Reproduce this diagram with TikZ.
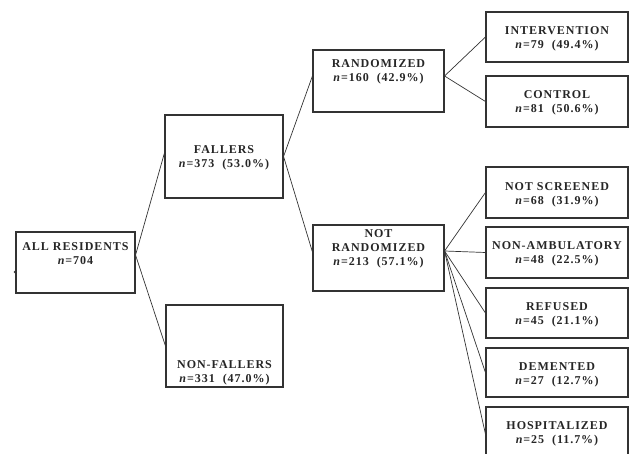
\documentclass[tikz,border=0pt]{standalone}
\usepackage{fontspec}
\newfontfamily\boxfont[LetterSpace=8]{Liberation Serif}
\tikzset{
    box/.style={draw=black!80, line width=1.1pt, inner sep=0pt},
    lbl/.style={font=\boxfont\bfseries\fontsize{12}{14}\selectfont, text=black!85, align=center, inner sep=0pt},
    link/.style={draw=black!80, line width=0.7pt}
}
\begin{document}
\begin{tikzpicture}[x=1pt, y=-1pt]
    \useasboundingbox (0, 0) rectangle (630, 454);
    \clip (0, 0) rectangle (630, 454);

    \node[box, minimum width=119, minimum height=61] (all) at (75.5, 262.5) {};
    \node[lbl] (allT) at (75.5, 254) {ALL RESIDENTS\\\textit{n}=704};
    \fill[black!80] (15, 272) circle (1.3pt);

    \node[box, minimum width=118, minimum height=83] (fallers) at (224, 156.5) {};
    \node[lbl] (fallersT) at (224, 157.5) {FALLERS\\\textit{n}=373\ \ (53.0\%)};

    \node[box, minimum width=117, minimum height=82] (nonfall) at (224.5, 346) {};
    \node[lbl] (nonfallT) at (224.5, 373) {NON-FALLERS\\\textit{n}=331\ \ (47.0\%)};

    \node[box, minimum width=131, minimum height=62] (rand) at (378.5, 81) {};
    \node[lbl] (randT) at (378.5, 72) {RANDOMIZED\\\textit{n}=160\ \ (42.9\%)};

    \node[box, minimum width=131, minimum height=66] (notrand) at (378.5, 258) {};
    \node[lbl] (notrandT) at (378.5, 249) {NOT\\RANDOMIZED\\\textit{n}=213\ \ (57.1\%)};

    \node[box, minimum width=142, minimum height=50] (interv) at (557, 37) {};
    \node[lbl] (intervT) at (557, 38.5) {INTERVENTION\\\textit{n}=79\ \ (49.4\%)};

    \node[box, minimum width=142, minimum height=51] (control) at (557, 101.5) {};
    \node[lbl] (controlT) at (557, 103) {CONTROL\\\textit{n}=81\ \ (50.6\%)};

    \node[box, minimum width=142, minimum height=51] (notscr) at (557, 192.5) {};
    \node[lbl] (notscrT) at (557, 195) {NOT SCREENED\\\textit{n}=68\ \ (31.9\%)};

    \node[box, minimum width=142, minimum height=51] (nonamb) at (557, 252.5) {};
    \node[lbl] (nonambT) at (557, 254) {NON-AMBULATORY\\\textit{n}=48\ \ (22.5\%)};

    \node[box, minimum width=142, minimum height=50] (refused) at (557, 313) {};
    \node[lbl] (refusedT) at (557, 315) {REFUSED\\\textit{n}=45\ \ (21.1\%)};

    \node[box, minimum width=142, minimum height=49] (dement) at (557, 372.5) {};
    \node[lbl] (dementT) at (557, 374.5) {DEMENTED\\\textit{n}=27\ \ (12.7\%)};

    \node[box, minimum width=142, minimum height=54] (hosp) at (557, 434) {};
    \node[lbl] (hospT) at (557, 434) {HOSPITALIZED\\\textit{n}=25\ \ (11.7\%)};

    \draw[link] ([yshift=7.5pt]all.east) -- ([yshift=3.5pt]fallers.west);
    \draw[link] ([yshift=7.5pt]all.east) -- (nonfall.west);

    \draw[link] (fallers.east) -- ([yshift=5pt]rand.west);
    \draw[link] (fallers.east) -- ([yshift=6pt]notrand.west);

    \draw[link] ([yshift=5pt]rand.east) -- (interv.west);
    \draw[link] ([yshift=5pt]rand.east) -- (control.west);

    \draw[link] ([yshift=7pt]notrand.east) -- (notscr.west);
    \draw[link] ([yshift=7pt]notrand.east) -- (nonamb.west);
    \draw[link] ([yshift=7pt]notrand.east) -- (refused.west);
    \draw[link] ([yshift=7pt]notrand.east) -- (dement.west);
    \draw[link] ([yshift=7pt]notrand.east) -- (hosp.west);
\end{tikzpicture}
\end{document}
